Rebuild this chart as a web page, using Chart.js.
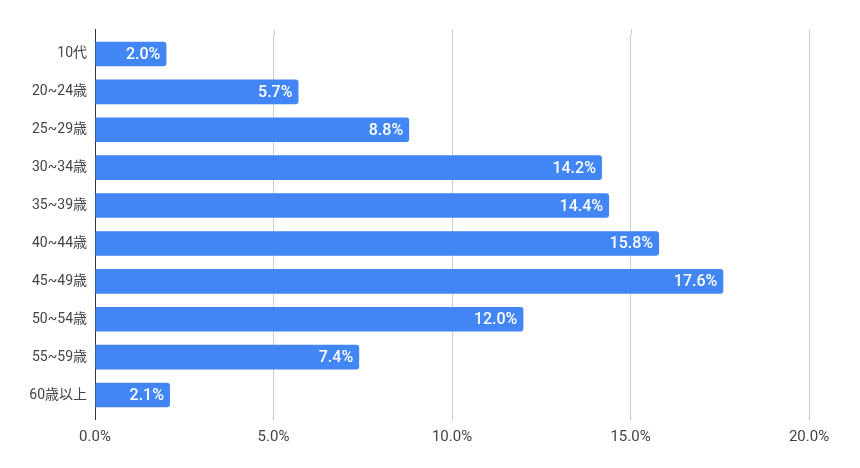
<!DOCTYPE html>
<html>
<head>
<meta charset="utf-8">
<script src="https://cdn.jsdelivr.net/npm/chart.js@4"></script>
<style>
html,body{margin:0;padding:0;background:#fff;}
#wrap{width:860px;height:468px;}
</style>
</head>
<body>
<div id="wrap"><canvas id="c" width="860" height="468"></canvas></div>
<script>
const categories = ["10代","20~24歳","25~29歳","30~34歳","35~39歳","40~44歳","45~49歳","50~54歳","55~59歳","60歳以上"];
const shares = [2.0, 5.7, 8.8, 14.2, 14.4, 15.8, 17.6, 12.0, 7.4, 2.1];
const xTicks = [0, 5, 10, 15, 20];

const FONT = "Roboto, 'Noto Sans CJK JP', sans-serif";

const gridExt = {
  id: 'gridExt',
  beforeDatasetsDraw(chart) {
    const {ctx, chartArea, scales} = chart;
    ctx.save();
    ctx.lineWidth = 1;
    xTicks.forEach(v => {
      const x = Math.round(scales.x.getPixelForValue(v)) + 0.5;
      ctx.strokeStyle = v === 0 ? '#333333' : '#cccccc';
      ctx.beginPath();
      ctx.moveTo(x, chartArea.top - 6);
      ctx.lineTo(x, chartArea.top);
      ctx.stroke();
    });
    ctx.restore();
  }
};

const barLabels = {
  id: 'barLabels',
  afterDatasetsDraw(chart) {
    const {ctx} = chart;
    const meta = chart.getDatasetMeta(0);
    ctx.save();
    ctx.font = "500 16px " + FONT;
    ctx.fillStyle = '#ffffff';
    ctx.textAlign = 'right';
    ctx.textBaseline = 'middle';
    meta.data.forEach((el, i) => {
      ctx.fillText(shares[i].toFixed(1) + '%', el.x - 6, el.y + 1);
    });
    ctx.restore();
  }
};

new Chart(document.getElementById('c'), {
  type: 'bar',
  data: {
    labels: categories,
    datasets: [{
      data: shares,
      backgroundColor: '#4285F4',
      borderRadius: 3,
      borderSkipped: 'start',
      barPercentage: 0.65,
      categoryPercentage: 1.0
    }]
  },
  options: {
    indexAxis: 'y',
    responsive: false,
    animation: false,
    devicePixelRatio: 1,
    layout: { padding: { top: 35, right: 51, left: 0, bottom: 0 } },
    plugins: { legend: { display: false }, tooltip: { enabled: false } },
    scales: {
      x: {
        min: 0, max: 20,
        afterBuildTicks(scale) { scale.ticks = xTicks.map(v => ({value: v})); },
        afterFit(scale) { scale.height = 54; },
        border: { display: false },
        grid: {
          color: ctx => (ctx.tick && ctx.tick.value === 0) ? '#333333' : '#cccccc',
          lineWidth: 1,
          drawTicks: true,
          tickLength: 6
        },
        ticks: {
          color: '#444444',
          font: { family: FONT, size: 15 },
          padding: 8,
          callback: v => Number(v).toFixed(1) + '%'
        }
      },
      y: {
        afterFit(scale) { scale.width = 95; },
        border: { display: true, color: '#333333', width: 1 },
        grid: { display: false, drawTicks: false },
        ticks: {
          color: '#444444',
          font: { family: FONT, size: 14 },
          padding: 8
        }
      }
    }
  },
  plugins: [gridExt, barLabels]
});
</script>
</body>
</html>
